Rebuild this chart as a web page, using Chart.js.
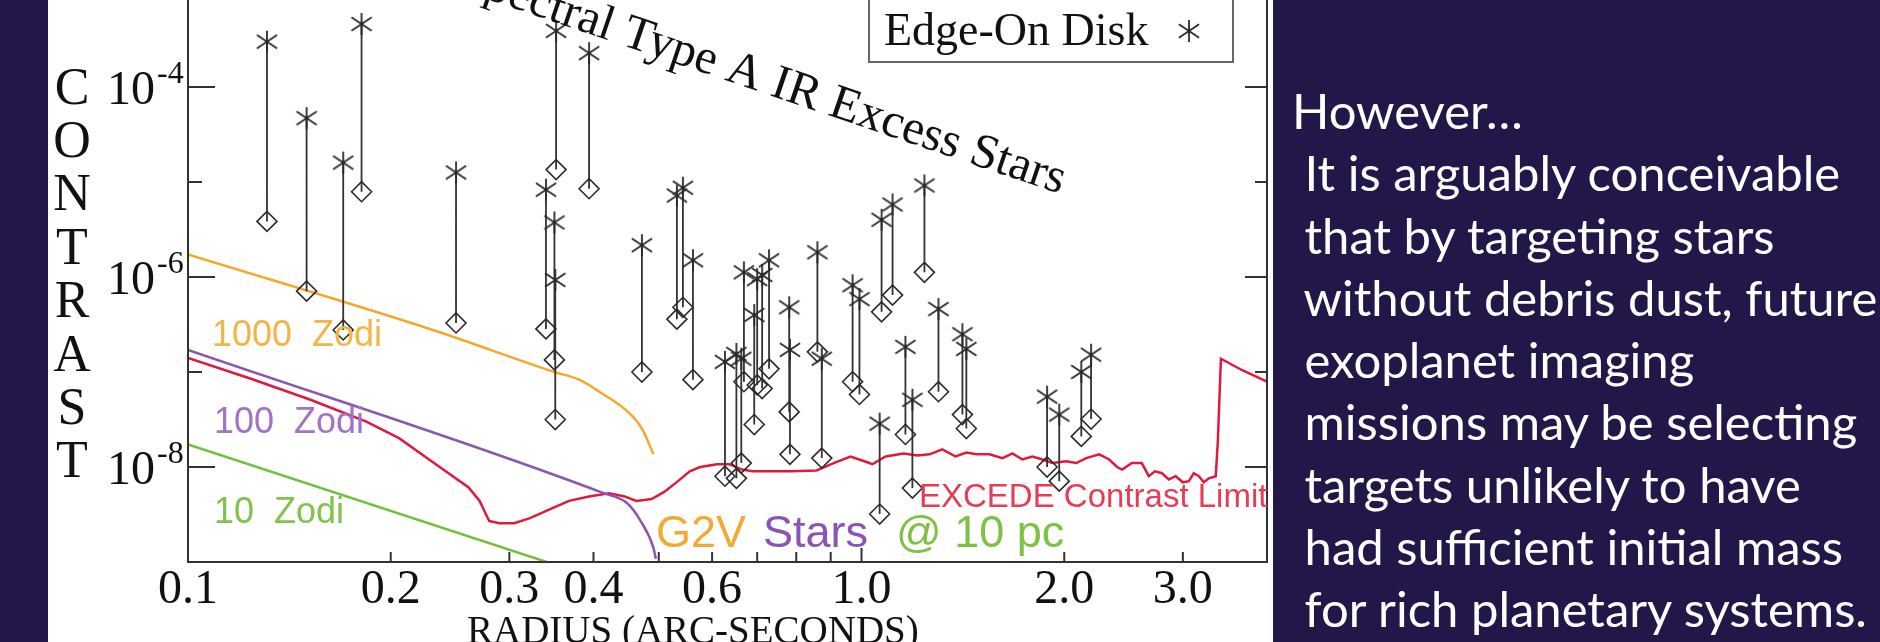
<!DOCTYPE html>
<html>
<head>
<meta charset="utf-8">
<script src="https://cdn.jsdelivr.net/npm/chart.js@4/dist/chart.umd.min.js"></script>
<style>
  html, body { margin: 0; padding: 0; }
  body { width: 1880px; height: 642px; overflow: hidden; background: #23174a; position: relative; }
  #panel { position: absolute; left: 48px; top: 0; width: 1225px; height: 642px; background: #fff; }
  #chart { position: absolute; left: 0; top: -20px; }
  #note {
    position: absolute; left: 1292px; top: 79px;
    font-family: Lato, "Open Sans", sans-serif; font-size: 49px; line-height: 62.25px;
    color: #fff; white-space: pre;
  }
</style>
</head>
<body>
<div id="panel"></div>
<canvas id="chart" width="1880" height="662"></canvas>
<div id="note">However…
 It is arguably conceivable
 that by targeting stars
 without debris dust, future
 exoplanet imaging
 missions may be selecting
 targets unlikely to have
 had sufficient initial mass
 for rich planetary systems.</div>
<script>
// ---- data (radius in arcsec, contrast) ----
const starRadius = [0.131, 0.150, 0.170, 0.181, 0.250, 0.352, 0.340, 0.350, 0.351, 0.394,
  0.472, 0.532, 0.543, 0.562, 0.627, 0.652, 0.663, 0.669, 0.693, 0.700,
  0.712, 0.729, 0.781, 0.783, 0.860, 0.873, 0.970, 0.993, 1.064, 1.071,
  1.112, 1.162, 1.190, 1.240, 1.301, 1.412, 1.431, 1.886, 1.966, 2.120, 2.192];
// edge-on disk (asterisks)
const edgeOnContrast = [3.0e-4, 4.7e-5, 1.6e-5, 4.6e-4, 1.26e-5, 3.9e-4, 8.3e-6, 3.75e-6, 9.3e-7, 2.27e-4,
  2.16e-6, 7.2e-6, 8.7e-6, 1.5e-6, 1.28e-7, 1.55e-7, 1.38e-7, 1.12e-6, 3.98e-7, 9.5e-7,
  1.05e-6, 1.5e-6, 4.8e-7, 1.71e-7, 1.82e-6, 1.38e-7, 8.2e-7, 5.85e-7, 2.86e-8, 4.0e-6,
  5.8e-6, 1.84e-7, 5.1e-8, 9.2e-6, 4.6e-7, 2.5e-7, 1.75e-7, 5.5e-8, 3.56e-8, 1.0e-7, 1.52e-7];
// face-on (diamonds)
const faceOnContrast = [3.85e-6, 7.1e-7, 2.77e-7, 7.9e-6, 3.28e-7, 1.35e-5, 2.84e-7, 1.34e-7, 3.16e-8, 8.5e-6,
  1.0e-7, 3.6e-7, 4.8e-7, 8.3e-8, 8.0e-9, 7.6e-9, 1.1e-8, 7.9e-8, 2.8e-8, 7.3e-8,
  6.7e-8, 1.08e-7, 3.8e-8, 1.36e-8, 1.63e-7, 1.24e-8, 7.9e-8, 5.8e-8, 3.2e-9, 4.3e-7,
  6.45e-7, 2.2e-8, 6.0e-9, 1.12e-6, 6.2e-8, 3.56e-8, 2.54e-8, 1.0e-8, 7.1e-9, 2.1e-8, 3.2e-8];

const zodi1000Radius = [0.1, 0.231, 0.350, 0.381, 0.408, 0.453, 0.473, 0.491];
const zodi1000Contrast = [1.73e-6, 2.77e-7, 1.0e-7, 8.3e-8, 6.2e-8, 3.65e-8, 2.48e-8, 1.36e-8];
const zodi100Radius = [0.1, 0.414, 0.448, 0.470, 0.491, 0.495];
const zodi100Contrast = [1.71e-7, 5.3e-9, 4.2e-9, 2.7e-9, 1.41e-9, 1.08e-9];
const zodi10Radius = [0.1, 0.338, 0.408];
const zodi10Contrast = [1.73e-8, 1.02e-9, 6.6e-10];

const excedeRadius = [0.100, 0.124, 0.152, 0.184, 0.206, 0.228, 0.261, 0.271, 0.280, 0.290,
  0.305, 0.322, 0.345, 0.368, 0.394, 0.422, 0.445, 0.463, 0.488, 0.510,
  0.534, 0.556, 0.576, 0.610, 0.636, 0.665, 0.689, 0.737, 0.787, 0.858,
  0.909, 0.963, 1.010, 1.038, 1.086, 1.154, 1.211, 1.262, 1.318, 1.379,
  1.431, 1.481, 1.549, 1.619, 1.675, 1.733, 1.794, 1.856, 1.920, 2.014,
  2.084, 2.156, 2.254, 2.332, 2.396, 2.438, 2.520, 2.607, 2.670, 2.727,
  2.793, 2.859, 2.928, 3.000, 3.062, 3.114, 3.168, 3.223, 3.279, 3.357,
  3.381, 3.417, 3.669, 4.000];
const excedeContrast = [1.41e-7, 8.5e-8, 5.1e-8, 3.0e-8, 2.0e-8, 1.2e-8, 6.1e-9, 4.4e-9, 2.7e-9, 2.56e-9,
  2.56e-9, 2.9e-9, 3.6e-9, 4.4e-9, 4.9e-9, 5.3e-9, 4.9e-9, 4.4e-9, 4.6e-9, 5.5e-9,
  7.1e-9, 9.0e-9, 1.0e-8, 1.07e-8, 1.07e-8, 9.4e-9, 9.0e-9, 9.0e-9, 9.0e-9, 9.2e-9,
  1.1e-8, 1.29e-8, 1.15e-8, 1.07e-8, 1.29e-8, 1.39e-8, 1.32e-8, 1.36e-8, 1.53e-8, 1.29e-8,
  1.42e-8, 1.36e-8, 1.36e-8, 1.24e-8, 1.39e-8, 1.2e-8, 1.29e-8, 1.2e-8, 1.1e-8, 1.15e-8,
  1.1e-8, 1.24e-8, 1.36e-8, 1.2e-8, 1.0e-8, 9.4e-9, 1.1e-8, 1.1e-8, 8.0e-9, 9.0e-9,
  8.6e-9, 7.4e-9, 8.0e-9, 6.9e-9, 7.1e-9, 8.6e-9, 8.0e-9, 6.9e-9, 7.6e-9, 8.0e-9,
  1.86e-8, 1.38e-7, 1.05e-7, 7.9e-8];

// axis ticks
const xTickValues = [0.2, 0.3, 0.4, 0.5, 0.6, 0.7, 0.8, 0.9, 1, 2, 3];
const xLabelValues = [0.1, 0.2, 0.3, 0.4, 0.6, 1, 2, 3];
const xLabelText = ["0.1", "0.2", "0.3", "0.4", "0.6", "1.0", "2.0", "3.0"];
const yTickValues = [1e-4, 1e-5, 1e-6, 1e-7, 1e-8];
const yLabelValues = [1e-4, 1e-6, 1e-8];
const yLabelExp = ["-4", "-6", "-8"];
const yTitle = "CONTRAST";

const OFF = 20; // canvas sits 20px above page top
const INK = "#2b2b2b";
const SERIF = "'Liberation Serif', 'Times New Roman', serif";
const SANS = "'Liberation Sans', Arial, sans-serif";

function makeAsterisk(size, color, lw) {
  const c = document.createElement("canvas");
  c.width = c.height = size;
  const g = c.getContext("2d");
  const m = size / 2, r = m - 2;
  g.strokeStyle = color;
  g.lineWidth = lw;
  g.beginPath();
  g.moveTo(m, m - r); g.lineTo(m, m + r);
  g.moveTo(m - r * 0.92, m - r * 0.62); g.lineTo(m + r * 0.92, m + r * 0.62);
  g.moveTo(m - r * 0.92, m + r * 0.62); g.lineTo(m + r * 0.92, m - r * 0.62);
  g.stroke();
  return c;
}
const asterisk = makeAsterisk(26, INK, 1.8);

function pts(xs, ys) {
  return xs.map((v, i) => ({ x: v, y: ys[i] }));
}

const stems = [];
starRadius.forEach((r, i) => {
  stems.push({ x: r, y: edgeOnContrast[i] }, { x: r, y: faceOnContrast[i] }, { x: r, y: null });
});

function text(ctx, s, x, y, font, color, align) {
  ctx.font = font;
  ctx.fillStyle = color;
  ctx.textAlign = align || "left";
  ctx.textBaseline = "alphabetic";
  ctx.fillText(s, x, y + OFF);
}

const overlay = {
  id: "overlay",
  afterDatasetsDraw(chart) {
    const { ctx, chartArea: a, scales } = chart;
    const xs = scales.x, ys = scales.y;
    ctx.save();

    // frame
    ctx.strokeStyle = "#333";
    ctx.lineWidth = 2;
    ctx.beginPath();
    ctx.moveTo(a.left, a.top); ctx.lineTo(a.left, a.bottom);
    ctx.lineTo(a.right, a.bottom); ctx.lineTo(a.right, a.top);
    ctx.stroke();

    // inward ticks
    ctx.beginPath();
    xTickValues.forEach(v => {
      const px = xs.getPixelForValue(v);
      ctx.moveTo(px, a.bottom); ctx.lineTo(px, a.bottom - (v === 1 ? 14 : 10));
    });
    yTickValues.forEach(v => {
      const py = ys.getPixelForValue(v);
      const major = yLabelValues.includes(v);
      ctx.moveTo(a.left, py); ctx.lineTo(a.left + (major ? 27 : 14), py);
      ctx.moveTo(a.right, py); ctx.lineTo(a.right - (major ? 22 : 12), py);
    });
    ctx.stroke();

    // tick labels
    xLabelValues.forEach((v, i) => {
      text(ctx, xLabelText[i], xs.getPixelForValue(v), 603, "48px " + SERIF, "#111", "center");
    });
    yLabelValues.forEach((v, i) => {
      const py = ys.getPixelForValue(v) - OFF;
      text(ctx, "10", a.left - 33, py + 17, "48px " + SERIF, "#111", "right");
      text(ctx, yLabelExp[i], a.left - 31, py - 4, "32px " + SERIF, "#111", "left");
    });

    // axis titles
    yTitle.split("").forEach((ch, i) => {
      text(ctx, ch, 72, 86 + i * 53.4 + 17.5, "52px " + SERIF, "#111", "center");
    });
    text(ctx, "RADIUS (ARC-SECONDS)", 467, 643, "39px " + SERIF, "#111", "left");

    // curve labels
    text(ctx, "1000  Zodi", 212, 346, "36px " + SANS, "#f4b547");
    text(ctx, "100  Zodi", 214, 433, "36px " + SANS, "#a274c6");
    text(ctx, "10  Zodi", 214, 523, "36px " + SANS, "#80c44c");
    text(ctx, "G2V", 656, 547, "45px " + SANS, "#f3a935");
    text(ctx, "Stars", 763, 547, "45px " + SANS, "#8d52b8");
    text(ctx, "@ 10 pc", 896, 547, "45px " + SANS, "#7ec243");
    text(ctx, "EXCEDE Contrast Limit", 919, 507, "33px " + SANS, "#e63d55");

    // slanted caption, anchored at the end of "Stars"
    const caption = "Spectral Type A IR Excess Stars";
    ctx.font = "49px " + SERIF;
    const full = ctx.measureText(caption).width;
    const ang = 18.8 * Math.PI / 180;
    ctx.translate(1060, 194 + OFF);
    ctx.rotate(ang);
    ctx.fillStyle = "#111";
    ctx.textAlign = "left";
    ctx.fillText(caption, -full, 0);
    ctx.setTransform(1, 0, 0, 1, 0, 0);

    // legend box
    ctx.strokeStyle = "#666";
    ctx.lineWidth = 2;
    ctx.strokeRect(869, -30 + OFF, 1233 - 869, 92);
    text(ctx, "Edge-On Disk", 884, 45, "46px " + SERIF, "#111");
    ctx.drawImage(asterisk, 1189 - 13, 31 + OFF - 13);

    ctx.restore();
  }
};

new Chart(document.getElementById("chart"), {
  type: "scatter",
  data: {
    datasets: [
      { label: "Edge-On Disk", data: pts(starRadius, edgeOnContrast), pointStyle: asterisk, pointRadius: 11 },
      { label: "Face-On Disk", data: pts(starRadius, faceOnContrast), pointStyle: "rectRot", pointRadius: 10,
        borderColor: INK, borderWidth: 1.6, backgroundColor: "rgba(0,0,0,0)" },
      { label: "stems", data: stems, showLine: true, spanGaps: false, pointRadius: 0,
        borderColor: "#333", borderWidth: 1.8 },
      { label: "1000 Zodi", data: pts(zodi1000Radius, zodi1000Contrast), showLine: true, pointRadius: 0,
        borderColor: "#f5a82a", borderWidth: 2.5, cubicInterpolationMode: "monotone" },
      { label: "100 Zodi", data: pts(zodi100Radius, zodi100Contrast), showLine: true, pointRadius: 0,
        borderColor: "#8b55b0", borderWidth: 2.5, cubicInterpolationMode: "monotone" },
      { label: "10 Zodi", data: pts(zodi10Radius, zodi10Contrast), showLine: true, pointRadius: 0,
        borderColor: "#72bf3a", borderWidth: 2.5 },
      { label: "EXCEDE Contrast Limit", data: pts(excedeRadius, excedeContrast), showLine: true, pointRadius: 0,
        borderColor: "#e01a3c", borderWidth: 2.5 }
    ]
  },
  options: {
    responsive: false,
    animation: false,
    layout: { padding: { left: 188, right: 613, top: 8, bottom: 80 } },
    plugins: { legend: { display: false }, tooltip: { enabled: false } },
    scales: {
      x: { type: "logarithmic", min: 0.1, max: 4.0, display: false },
      y: { type: "logarithmic", min: 1e-9, max: 1e-3, display: false }
    }
  },
  plugins: [overlay]
});
</script>
</body>
</html>
